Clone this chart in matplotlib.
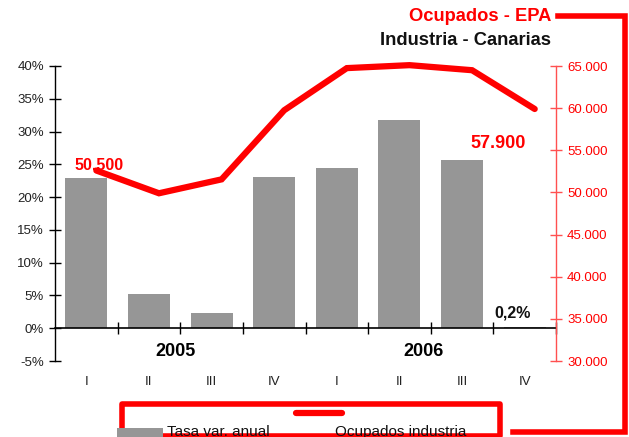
import matplotlib
matplotlib.use("Agg")
import matplotlib.pyplot as plt
from matplotlib.lines import Line2D
from matplotlib.patches import Rectangle
from matplotlib.transforms import blended_transform_factory
import numpy as np

plt.rcParams['font.family'] = ['Liberation Sans', 'DejaVu Sans']

quarters = ["I", "II", "III", "IV", "I", "II", "III", "IV"]
years = ["2005", "2006"]
tasa = [22.9, 5.2, 2.3, 23.1, 24.5, 31.8, 25.7, 0.2]
ocupados = [52600, 49900, 51550, 59750, 64750, 65100, 64500, 59900]
label_first = "50.500"
label_last = "57.900"
label_bar = "0,2%"

W, H = 629, 437
fig = plt.figure(figsize=(W / 100, H / 100), dpi=100)

def fx(px):
    return px / W

def fy(py):
    return 1 - py / H

ax = fig.add_axes([fx(55), fy(361), fx(556) - fx(55), fy(66) - fy(361)])
ax2 = ax.twinx()

x = np.arange(len(tasa))
ax.bar(x, tasa, width=0.67, color="#969696", zorder=2)
ax.set_xlim(-0.5, len(tasa) - 0.5)
ax.set_ylim(-5, 40)
ax.set_yticks(np.arange(-5, 41, 5))
ax.set_yticklabels([f"{v}%" for v in range(-5, 41, 5)], fontsize=9.5, color="#222222")
ax.tick_params(axis="y", direction="inout", length=8, width=1, pad=4)

for s in ["top", "right"]:
    ax.spines[s].set_visible(False)
ax.spines["bottom"].set_position(("data", 0))
ax.spines["bottom"].set_linewidth(1.2)
ax.spines["left"].set_linewidth(1)
ax.set_xticks(np.arange(0.5, len(tasa) + 0.5, 1))
ax.set_xticklabels([])
ax.tick_params(axis="x", direction="inout", length=8, width=1)

trans = blended_transform_factory(ax.transData, ax.transAxes)
for i, q in enumerate(quarters):
    ax.text(i, -0.071, q, transform=trans, ha="center", va="center",
            fontsize=9.5, color="#222222")
ax.text(1.43, 0.0325, years[0], transform=trans, ha="center", va="center",
        fontsize=13, fontweight="bold")
ax.text(5.39, 0.0325, years[1], transform=trans, ha="center", va="center",
        fontsize=13, fontweight="bold")

ax2.plot(x + 0.16, ocupados, color="#ff0000", lw=4.5, solid_capstyle="round",
         solid_joinstyle="miter", zorder=3, clip_on=False)
ax2.set_ylim(30000, 65000)
ticks = np.arange(30000, 65001, 5000)
ax2.set_yticks(ticks)
ax2.set_yticklabels([f"{t // 1000}.000" for t in ticks], fontsize=9.5, color="#ff0000")
ax2.tick_params(axis="y", direction="inout", length=8, width=1, colors="#ff5050",
                labelcolor="#ff0000", pad=4)
for s in ["top", "left", "bottom"]:
    ax2.spines[s].set_visible(False)
ax2.spines["right"].set_color("#ff5050")
ax2.spines["right"].set_linewidth(1)

ax2.text(0.2, 53200, label_first, ha="center", va="center", fontsize=11.5,
         fontweight="bold", color="#ff0000")
ax2.text(6.58, 55830, label_last, ha="center", va="center", fontsize=13,
         fontweight="bold", color="#ff0000")
ax.text(6.8, 2.3, label_bar, ha="center", va="center", fontsize=11.5,
        fontweight="bold", color="#111111")

# titles
fig.text(fx(551), fy(21), "Ocupados - EPA", ha="right", va="baseline",
         fontsize=13.2, fontweight="bold", color="#ff0000")
fig.text(fx(551), fy(45), "Industria - Canarias", ha="right", va="baseline",
         fontsize=13.2, fontweight="bold", color="#111111")

# outer red frame
fig.add_artist(Line2D([fx(558), fx(624.5), fx(624.5), fx(513)],
                      [fy(15.5), fy(15.5), fy(432), fy(432)],
                      color="#ff0000", lw=4, solid_joinstyle="miter"))

# legend frame & items
fig.add_artist(Rectangle((fx(122), fy(436)), fx(500) - fx(122), fy(404) - fy(436),
                         fill=False, edgecolor="#ff0000", lw=4, joinstyle="round"))
fig.add_artist(Rectangle((fx(117), fy(440)), fx(163) - fx(117), fy(428) - fy(440),
                         facecolor="#969696", edgecolor="none"))
fig.add_artist(Line2D([fx(296), fx(342)], [fy(413), fy(413)], color="#ff0000",
                      lw=4.5, solid_capstyle="round"))
fig.text(fx(167), fy(436), "Tasa var. anual", ha="left", va="baseline",
         fontsize=11, color="#111111")
fig.text(fx(335), fy(436), "Ocupados industria", ha="left", va="baseline",
         fontsize=11, color="#111111")

fig.savefig("out.png", dpi=100)
